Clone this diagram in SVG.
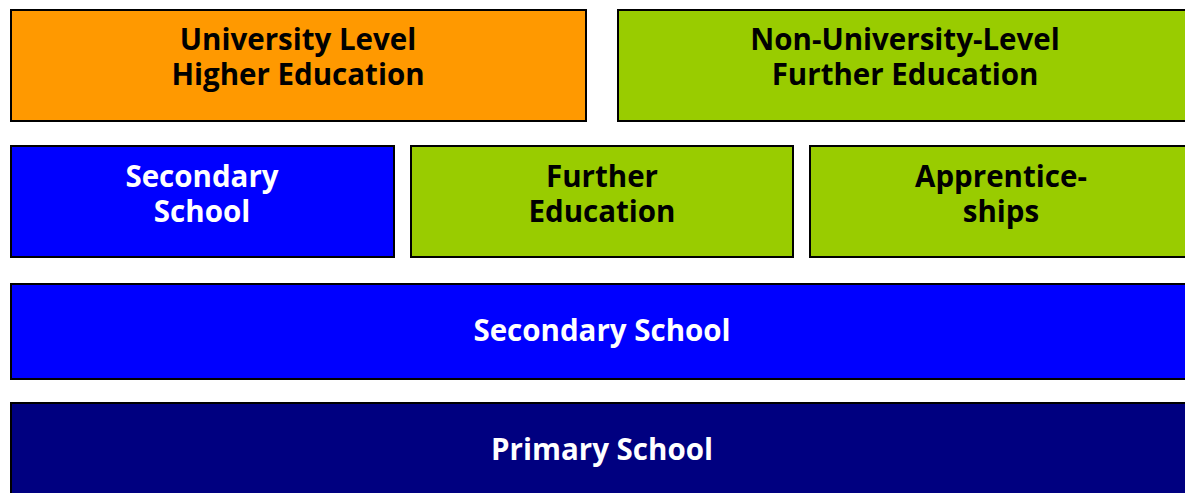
<svg xmlns="http://www.w3.org/2000/svg" width="1185" height="493" viewBox="0 0 1185 493">
<style>
rect{stroke:#000;stroke-width:2}
text{font-family:"Open Sans","DejaVu Sans",sans-serif;font-weight:bold;font-size:29.5px;text-anchor:middle}
.dk{fill:#000}
.wt{fill:#fff}
</style>
<rect width="1185" height="493" fill="#fff" style="stroke:none"/>
<g id="university">
<rect x="11" y="10" width="575" height="111" fill="#FF9900"/>
<text class="dk" x="298" y="50">University Level</text>
<text class="dk" x="298" y="85">Higher Education</text>
</g>
<g id="non-university">
<rect x="618" y="10" width="580" height="111" fill="#99CC00"/>
<text class="dk" x="905" y="50">Non-University-Level</text>
<text class="dk" x="905" y="85">Further Education</text>
</g>
<g id="secondary-upper">
<rect x="11" y="146" width="383" height="111" fill="#0000FF"/>
<text class="wt" x="202" y="187">Secondary</text>
<text class="wt" x="202" y="222">School</text>
</g>
<g id="further">
<rect x="411" y="146" width="382" height="111" fill="#99CC00"/>
<text class="dk" x="602" y="187">Further</text>
<text class="dk" x="602" y="222">Education</text>
</g>
<g id="apprenticeships">
<rect x="810" y="146" width="390" height="111" fill="#99CC00"/>
<text class="dk" x="1001" y="187">Apprentice-</text>
<text class="dk" x="1001" y="222">ships</text>
</g>
<g id="secondary">
<rect x="11" y="284" width="1190" height="95" fill="#0000FF"/>
<text class="wt" x="602" y="341">Secondary School</text>
</g>
<g id="primary">
<rect x="11" y="403" width="1190" height="100" fill="#000080"/>
<text class="wt" x="602" y="460">Primary School</text>
</g>
<g id="connectors"></g>
</svg>
